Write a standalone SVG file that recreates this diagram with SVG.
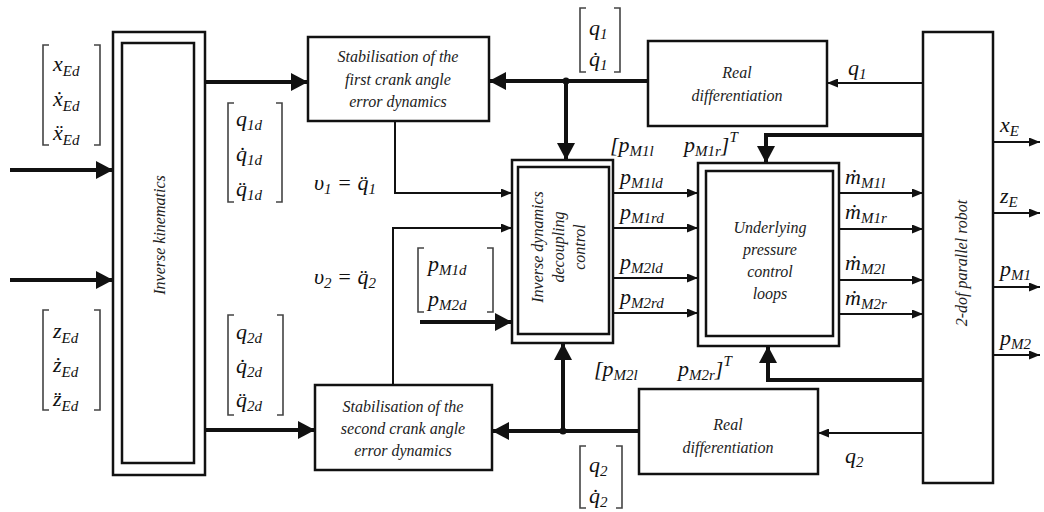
<svg xmlns="http://www.w3.org/2000/svg" width="1044" height="512" viewBox="0 0 1044 512" font-family="Liberation Serif, DejaVu Serif, serif">
<style>
.bx{fill:#fff;stroke:#111;stroke-width:2.5}
.t{font-style:italic;font-size:16px;fill:#222;text-anchor:middle}
.m{font-style:italic;font-size:22px;fill:#111}
.s{font-size:15px}
.br{fill:none;stroke:#444;stroke-width:1.6}
.thick{fill:none;stroke:#111;stroke-width:4}
.thin{fill:none;stroke:#111;stroke-width:2}
</style>
<defs>
<marker id="ab" markerUnits="userSpaceOnUse" markerWidth="17" markerHeight="18" refX="17" refY="9" orient="auto"><path d="M0,0 L17,9 L0,18 z" fill="#111"/></marker>
<marker id="as" markerUnits="userSpaceOnUse" markerWidth="11" markerHeight="9" refX="11" refY="4.5" orient="auto"><path d="M0,0 L11,4.5 L0,9 z" fill="#111"/></marker>
</defs>
<rect width="1044" height="512" fill="#fff"/>

<g id="connectors">
<path class="thick" d="M10,170 H113" marker-end="url(#ab)"/>
<path class="thick" d="M10,280 H113" marker-end="url(#ab)"/>
<path class="thick" d="M205,82 H308" marker-end="url(#ab)"/>
<path class="thick" d="M205,430 H315" marker-end="url(#ab)"/>
<path class="thin" d="M395,121 V193 H512" marker-end="url(#as)"/>
<path class="thin" d="M393,385 V228 H512" marker-end="url(#as)"/>
<path class="thick" d="M420,322 H512" marker-end="url(#ab)"/>
<path class="thick" d="M648,81 H489" marker-end="url(#ab)"/>
<path class="thick" d="M566,81 V160" marker-end="url(#ab)"/>
<circle cx="566" cy="81" r="3.5" fill="#111"/>
<path class="thin" d="M923,83 H827" marker-end="url(#as)"/>
<path class="thick" d="M923,135 H766 V163" marker-end="url(#ab)"/>
<path class="thin" d="M613,193 H698" marker-end="url(#as)"/>
<path class="thin" d="M613,228 H698" marker-end="url(#as)"/>
<path class="thin" d="M613,278 H698" marker-end="url(#as)"/>
<path class="thin" d="M613,313 H698" marker-end="url(#as)"/>
<path class="thin" d="M839,193 H923" marker-end="url(#as)"/>
<path class="thin" d="M839,229 H923" marker-end="url(#as)"/>
<path class="thin" d="M839,280 H923" marker-end="url(#as)"/>
<path class="thin" d="M839,314 H923" marker-end="url(#as)"/>
<path class="thick" d="M923,380 H768 V346" marker-end="url(#ab)"/>
<path class="thin" d="M923,433 H818" marker-end="url(#as)"/>
<path class="thick" d="M639,431 H492" marker-end="url(#ab)"/>
<path class="thick" d="M563,431 V343" marker-end="url(#ab)"/>
<circle cx="563" cy="431" r="3.5" fill="#111"/>
<path class="thin" d="M993,142 H1040" marker-end="url(#as)"/>
<path class="thin" d="M993,213 H1040" marker-end="url(#as)"/>
<path class="thin" d="M993,287 H1040" marker-end="url(#as)"/>
<path class="thin" d="M993,355 H1040" marker-end="url(#as)"/>
</g>

<g id="inverse-kinematics">
<rect class="bx" x="113" y="32" width="92" height="443"/>
<rect class="bx" x="122" y="43" width="72" height="420"/>
<text class="t" x="160" y="240" transform="rotate(-90 160 235)">Inverse kinematics</text>
</g>

<g id="stab1">
<rect class="bx" x="308" y="37" width="181" height="84"/>
<text class="t" x="398" y="62">Stabilisation of the</text>
<text class="t" x="398" y="85">first crank angle</text>
<text class="t" x="398" y="107">error dynamics</text>
</g>

<g id="stab2">
<rect class="bx" x="315" y="385" width="177" height="85"/>
<text class="t" x="403" y="412">Stabilisation of the</text>
<text class="t" x="403" y="434">second crank angle</text>
<text class="t" x="403" y="456">error dynamics</text>
</g>

<g id="real-diff-1">
<rect class="bx" x="648" y="41" width="179" height="85"/>
<text class="t" x="737" y="78">Real</text>
<text class="t" x="737" y="101">differentiation</text>
</g>

<g id="real-diff-2">
<rect class="bx" x="639" y="389" width="179" height="85"/>
<text class="t" x="728" y="430">Real</text>
<text class="t" x="728" y="453">differentiation</text>
</g>

<g id="inverse-dynamics">
<rect class="bx" x="512" y="160" width="101" height="183"/>
<rect class="bx" x="518" y="167" width="91" height="167"/>
<g transform="rotate(-90 560 247)">
<text class="t" x="560" y="230">Inverse dynamics</text>
<text class="t" x="560" y="251">decoupling</text>
<text class="t" x="560" y="272">control</text>
</g>
</g>

<g id="pressure-loops">
<rect class="bx" x="698" y="163" width="141" height="183"/>
<rect class="bx" x="706" y="171" width="127" height="165"/>
<text class="t" x="770" y="233">Underlying</text>
<text class="t" x="770" y="255">pressure</text>
<text class="t" x="770" y="277">control</text>
<text class="t" x="770" y="299">loops</text>
</g>

<g id="robot">
<rect class="bx" x="923" y="32" width="70" height="451"/>
<text class="t" x="962" y="268" transform="rotate(-90 962 263)">2-dof parallel robot</text>
</g>

<g id="labels">
<path class="br" d="M49,45 H43 V145 H49 M94,45 H100 V145 H94"/>
<text class="m" x="53" y="71">x<tspan class="s" dy="5">Ed</tspan></text>
<text class="m" x="53" y="106">&#x1E8B;<tspan class="s" dy="5">Ed</tspan></text>
<text class="m" x="53" y="140">x&#x308;<tspan class="s" dy="5">Ed</tspan></text>

<path class="br" d="M49,310 H43 V410 H49 M94,310 H100 V410 H94"/>
<text class="m" x="53" y="338">z<tspan class="s" dy="5">Ed</tspan></text>
<text class="m" x="53" y="372">&#x17C;<tspan class="s" dy="5">Ed</tspan></text>
<text class="m" x="53" y="406">z&#x308;<tspan class="s" dy="5">Ed</tspan></text>

<path class="br" d="M234,103 H228 V202 H234 M276,103 H282 V202 H276"/>
<text class="m" x="236" y="126">q<tspan class="s" dy="4">1d</tspan></text>
<text class="m" x="236" y="161">q&#x307;<tspan class="s" dy="4">1d</tspan></text>
<text class="m" x="236" y="196">q&#x308;<tspan class="s" dy="4">1d</tspan></text>

<path class="br" d="M234,315 H228 V415 H234 M277,315 H283 V415 H277"/>
<text class="m" x="236" y="339">q<tspan class="s" dy="4">2d</tspan></text>
<text class="m" x="236" y="373">q&#x307;<tspan class="s" dy="4">2d</tspan></text>
<text class="m" x="236" y="407">q&#x308;<tspan class="s" dy="4">2d</tspan></text>

<text class="m" x="314" y="190">&#x3C5;<tspan class="s" dy="4">1</tspan><tspan dy="-4"> = q&#x308;</tspan><tspan class="s" dy="4">1</tspan></text>
<text class="m" x="314" y="284">&#x3C5;<tspan class="s" dy="4">2</tspan><tspan dy="-4"> = q&#x308;</tspan><tspan class="s" dy="4">2</tspan></text>

<path class="br" d="M424,248 H418 V312 H424 M487,248 H493 V312 H487"/>
<text class="m" x="428" y="271">p<tspan class="s" dy="4">M1d</tspan></text>
<text class="m" x="428" y="306">p<tspan class="s" dy="4">M2d</tspan></text>

<path class="br" d="M586,8 H580 V72 H586 M614,8 H620 V72 H614"/>
<text class="m" x="589" y="35">q<tspan class="s" dy="4">1</tspan></text>
<text class="m" x="589" y="66">q&#x307;<tspan class="s" dy="4">1</tspan></text>

<path class="br" d="M586,446 H580 V508 H586 M616,446 H622 V508 H616"/>
<text class="m" x="589" y="472">q<tspan class="s" dy="4">2</tspan></text>
<text class="m" x="589" y="503">q&#x307;<tspan class="s" dy="4">2</tspan></text>

<text class="m" x="848" y="75">q<tspan class="s" dy="4">1</tspan></text>
<text class="m" x="845" y="463">q<tspan class="s" dy="4">2</tspan></text>

<text class="m" y="152"><tspan x="610">[p</tspan><tspan class="s" dy="4">M1l</tspan><tspan x="684" dy="-4">p</tspan><tspan class="s" dy="4">M1r</tspan><tspan dy="-4">]</tspan><tspan class="s" dy="-10">T</tspan></text>
<text class="m" y="376"><tspan x="594">[p</tspan><tspan class="s" dy="4">M2l</tspan><tspan x="678" dy="-4">p</tspan><tspan class="s" dy="4">M2r</tspan><tspan dy="-4">]</tspan><tspan class="s" dy="-10">T</tspan></text>

<text class="m" x="620" y="184">p<tspan class="s" dy="4">M1ld</tspan></text>
<text class="m" x="620" y="219">p<tspan class="s" dy="4">M1rd</tspan></text>
<text class="m" x="620" y="269">p<tspan class="s" dy="4">M2ld</tspan></text>
<text class="m" x="620" y="304">p<tspan class="s" dy="4">M2rd</tspan></text>

<text class="m" x="845" y="184">&#x1E41;<tspan class="s" dy="4">M1l</tspan></text>
<text class="m" x="845" y="219">&#x1E41;<tspan class="s" dy="4">M1r</tspan></text>
<text class="m" x="845" y="270">&#x1E41;<tspan class="s" dy="4">M2l</tspan></text>
<text class="m" x="845" y="305">&#x1E41;<tspan class="s" dy="4">M2r</tspan></text>

<text class="m" x="1000" y="132">x<tspan class="s" dy="4">E</tspan></text>
<text class="m" x="1000" y="203">z<tspan class="s" dy="4">E</tspan></text>
<text class="m" x="1000" y="276">p<tspan class="s" dy="4">M1</tspan></text>
<text class="m" x="1000" y="345">p<tspan class="s" dy="4">M2</tspan></text>
</g>
</svg>
